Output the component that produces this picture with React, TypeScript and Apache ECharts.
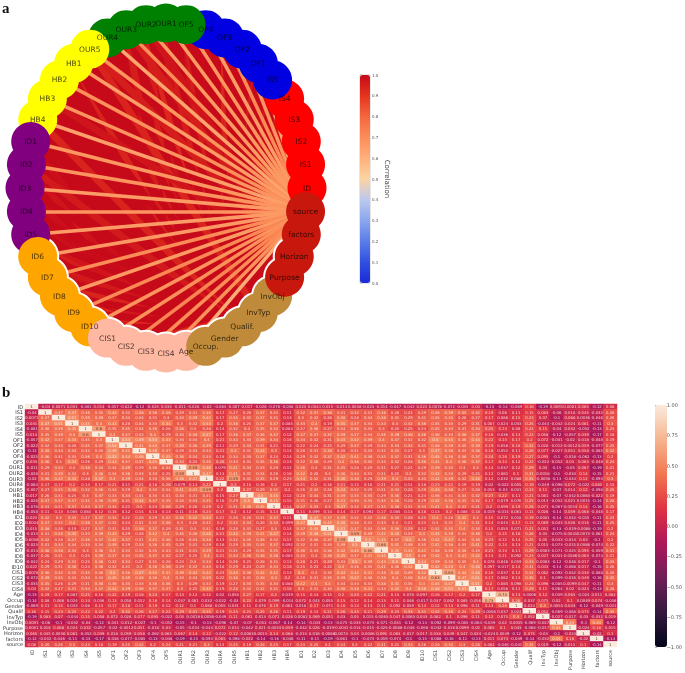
import React, { useEffect, useRef } from "react";
import * as echarts from "echarts";

const names = ["ID","IS1","IS2","IS3","IS4","IS5","OF1","OF2","OF3","OF4","OF5","OUR1","OUR2","OUR3","OUR4","OUR5","HB1","HB2","HB3","HB4","ID1","ID2","ID3","ID4","ID5","ID6","ID7","ID8","ID9","ID10","CIS1","CIS2","CIS3","CIS4","Age","Occup.","Gender","Qualif.","InvTyp","InvObj","Purpose","Horizon","factors","source"];
const heatNames = names.map((n) => n.replace(".", ""));
const groupColors = ["#ff0000","#0000e0","#008000","#ffff00","#800080","#ffa500","#ffb8a2","#bf8a3a","#c8170c"];
const groupSizes = [5,5,5,5,5,5,5,5,4];
const ringStart = "ID6";
const ringEnd = "Horizon";
const fanRow = "source";

const rows: number[][] = [
[],
[-0.04],
[0.0071,0.37],
[0.031,0.47,0.51],
[-0.081,0.36,0.39,0.45],
[0.014,0.35,0.39,0.4,0.6],
[-0.057,0.42,0.37,0.43,0.35,0.4],
[-0.022,0.32,0.34,0.28,0.35,0.37,0.54],
[-0.12,0.38,0.34,0.34,0.34,0.33,0.49,0.41],
[-0.025,0.36,0.31,0.33,0.36,0.4,0.53,0.44,0.46],
[0.033,0.36,0.3,0.44,0.26,0.29,0.43,0.37,0.37,0.45],
[-0.011,0.29,0.34,0.3,0.36,0.34,0.34,0.39,0.29,0.36,0.34],
[-0.028,0.31,0.39,0.32,0.3,0.38,0.34,0.36,0.33,0.34,0.25,0.59],
[-0.02,0.36,0.42,0.44,0.28,0.47,0.4,0.39,0.34,0.33,0.36,0.46,0.47],
[-0.064,0.17,0.17,0.2,0.14,0.17,0.21,0.11,0.21,0.18,0.26,0.079,0.13,0.22],
[-0.007,0.27,0.35,0.38,0.32,0.36,0.34,0.29,0.4,0.34,0.34,0.41,0.41,0.59,0.2],
[0.017,0.26,0.31,0.25,0.3,0.37,0.33,0.34,0.31,0.33,0.31,0.34,0.31,0.31,0.15,0.27],
[-0.026,0.37,0.37,0.37,0.35,0.36,0.39,0.31,0.44,0.37,0.35,0.33,0.34,0.35,0.16,0.29,0.5],
[-0.076,0.31,0.31,0.37,0.34,0.37,0.34,0.21,0.3,0.24,0.36,0.29,0.26,0.29,0.2,0.31,0.45,0.45],
[-0.058,0.11,0.13,0.085,0.084,0.12,0.16,0.12,0.14,0.14,0.13,0.11,0.16,0.23,0.17,0.2,0.12,0.15,0.14],
[0.023,0.32,0.3,0.33,0.27,0.37,0.34,0.22,0.28,0.29,0.32,0.36,0.42,0.44,0.21,0.26,0.28,0.31,0.37,0.11],
[0.0044,0.37,0.32,0.4,0.36,0.37,0.32,0.24,0.31,0.32,0.36,0.3,0.28,0.32,0.2,0.32,0.34,0.26,0.33,0.099,0.47],
[0.015,0.38,0.26,0.19,0.27,0.37,0.31,0.25,0.38,0.37,0.29,0.31,0.3,0.31,0.16,0.28,0.31,0.27,0.3,0.14,0.37,0.45],
[-0.013,0.31,0.38,0.45,0.34,0.39,0.43,0.29,0.28,0.42,0.4,0.35,0.36,0.46,0.21,0.44,0.39,0.41,0.47,0.14,0.39,0.48,0.51],
[0.0038,0.32,0.28,0.37,0.36,0.37,0.42,0.37,0.31,0.41,0.36,0.28,0.34,0.38,0.13,0.32,0.35,0.36,0.32,0.17,0.32,0.36,0.37,0.59],
[-0.023,0.31,0.34,0.34,0.33,0.34,0.39,0.29,0.33,0.36,0.35,0.29,0.31,0.29,0.16,0.29,0.35,0.35,0.37,0.092,0.32,0.31,0.33,0.39,0.5],
[-0.014,0.36,0.38,0.34,0.3,0.36,0.4,0.34,0.32,0.35,0.33,0.31,0.31,0.39,0.21,0.31,0.29,0.35,0.35,0.17,0.36,0.33,0.36,0.42,0.45,0.66],
[-0.047,0.26,0.31,0.3,0.25,0.39,0.37,0.34,0.35,0.37,0.32,0.27,0.25,0.4,0.21,0.34,0.36,0.38,0.38,0.085,0.33,0.3,0.38,0.45,0.37,0.41,0.45],
[-0.042,0.24,0.29,0.32,0.25,0.38,0.32,0.34,0.27,0.31,0.28,0.24,0.3,0.33,0.14,0.26,0.21,0.28,0.31,0.13,0.28,0.21,0.29,0.33,0.5,0.39,0.43,0.5],
[0.022,0.29,0.31,0.36,0.24,0.36,0.32,0.31,0.3,0.36,0.38,0.29,0.32,0.33,0.18,0.29,0.24,0.29,0.34,0.18,0.25,0.23,0.22,0.4,0.36,0.35,0.41,0.36,0.44],
[0.0078,0.36,0.35,0.35,0.35,0.36,0.5,0.38,0.47,0.45,0.41,0.39,0.42,0.42,0.23,0.43,0.36,0.42,0.41,0.13,0.4,0.3,0.32,0.44,0.42,0.41,0.38,0.42,0.39,0.42],
[-0.072,0.39,0.35,0.33,0.34,0.34,0.45,0.39,0.38,0.38,0.4,0.34,0.34,0.39,0.22,0.38,0.31,0.38,0.4,0.2,0.28,0.31,0.35,0.39,0.47,0.38,0.38,0.4,0.38,0.44,0.63],
[-0.035,0.35,0.26,0.29,0.31,0.38,0.36,0.35,0.33,0.36,0.36,0.3,0.29,0.32,0.19,0.27,0.34,0.35,0.33,0.088,0.42,0.4,0.4,0.34,0.34,0.33,0.38,0.41,0.35,0.4,0.44,0.47],
[0.04,0.32,0.27,0.31,0.34,0.37,0.44,0.39,0.36,0.37,0.37,0.3,0.25,0.43,0.19,0.28,0.32,0.32,0.31,0.18,0.3,0.31,0.33,0.38,0.38,0.41,0.33,0.42,0.4,0.46,0.48,0.51,0.51],
[-0.13,0.19,0.17,0.087,0.25,0.16,0.22,0.19,0.18,0.24,0.17,0.14,0.12,0.12,0.02,0.053,0.27,0.17,0.2,0.019,0.15,0.14,0.15,0.2,0.23,0.22,0.21,0.13,0.078,0.097,0.16,0.17,0.2,0.17],
[-0.14,0.08,0.066,0.024,0.14,0.036,0.13,0.058,0.052,0.16,0.14,0.037,0.061,0.032,-0.022,-0.03,0.22,0.079,0.099,-0.014,0.072,0.043,0.055,0.15,0.12,0.14,0.13,0.11,0.046,-0.017,0.037,0.062,0.085,0.056,0.73],
[-0.069,0.11,0.15,0.033,0.08,0.13,0.17,0.18,0.11,0.19,0.12,0.12,0.1,0.088,0.055,0.031,0.11,0.076,0.19,0.061,0.018,0.17,0.071,0.16,0.14,0.13,0.11,0.092,0.059,0.14,0.12,0.13,0.098,0.11,0.13,0.26],
[0.16,0.15,0.23,0.25,0.22,0.22,0.2,0.32,0.26,0.27,0.22,0.29,0.31,0.35,0.19,0.23,0.21,0.25,0.26,0.11,0.19,0.13,0.21,0.26,0.25,0.21,0.29,0.23,0.33,0.31,0.32,0.35,0.24,0.29,0.0006,0.037,0.024],
[-0.19,0.083,0.07,-0.044,0.15,0.058,0.072,0.028,0.077,0.095,-0.022,0.03,0.0018,-0.0056,-0.049,0.11,0.061,0.013,0.071,0.026,0.0081,0.069,0.051,0.03,0.05,0.015,0.0063,0.047,0.0063,0.043,0.062,0.1,0.096,0.11,0.12,0.075,0.3,0.052],
[0.0091,-0.06,-0.1,-0.032,-0.04,-0.12,-0.041,-0.012,-0.027,-0.1,-0.052,-0.15,-0.1,-0.13,-0.096,-0.07,-0.07,-0.052,-0.067,-0.14,-0.14,-0.043,-0.13,-0.075,-0.033,-0.073,-0.071,-0.031,-0.12,-0.14,-0.092,-0.099,-0.085,-0.064,-0.039,0.02,0.0055,-0.069,-0.027],
[0.0081,0.018,0.068,0.024,0.032,-0.057,-0.02,-0.0012,0.051,-0.018,0.03,-0.05,-0.034,-0.044,0.072,0.014,-0.042,0.021,-0.0053,0.059,-0.042,0.026,-0.019,-0.0041,-0.014,-0.015,-0.025,-0.0086,-0.046,-0.068,-0.042,-0.016,0.0099,0.02,0.065,0.1,0.043,-0.068,-0.017,0.44],
[0.065,0.045,0.0036,0.061,-0.052,0.039,0.018,0.059,0.058,-0.062,0.063,0.067,0.14,0.12,-0.022,0.12,0.0063,0.0015,0.14,0.068,-0.015,0.016,-0.0088,0.0073,0.03,0.0086,0.095,0.063,0.017,0.017,0.038,0.049,0.047,0.024,-0.024,0.0049,-0.12,0.075,-0.03,-0.1,-0.024],
[-0.12,-0.032,-0.046,-0.11,-0.13,-0.17,-0.048,-0.077,-0.085,-0.13,-0.048,-0.19,-0.15,-0.093,0.065,-0.098,-0.022,-0.14,-0.16,-0.048,-0.11,-0.11,-0.19,-0.061,-0.1,-0.074,-0.059,-0.074,-0.1,-0.15,-0.088,-0.16,-0.11,-0.13,0.011,0.074,-0.049,-0.14,-0.032,0.44,0.18,-0.02],
[0.08,0.26,0.26,0.3,0.23,0.18,0.19,0.25,0.32,0.2,0.24,0.21,0.21,0.3,0.13,0.25,0.19,0.28,0.25,0.17,0.23,0.25,0.2,0.24,0.2,0.22,0.31,0.21,0.33,0.26,0.28,0.35,0.3,0.28,0.082,-0.046,-0.041,0.35,0.019,-0.12,0.015,0.1,-0.14],
];

const rocket = ["#03051a","#35193e","#701f57","#ad1759","#e13342","#f37651","#f6b48f","#faebdd"];
const corrStops = ["#1a2ad8","#3050e0","#5a7de8","#8aa6ee","#bcc8ee","#fcd4a4","#ffb07a","#fb8d58","#f4663e","#e5341f","#c70a1a"];

function hexRgb(h: string) {
  return [1, 3, 5].map((i) => parseInt(h.slice(i, i + 2), 16));
}
function ramp(stops: string[], t: number) {
  const p = Math.max(0, Math.min(1, t)) * (stops.length - 1);
  const i = Math.min(stops.length - 2, Math.floor(p));
  const a = hexRgb(stops[i]);
  const b = hexRgb(stops[i + 1]);
  const f = p - i;
  return `rgb(${a.map((c, k) => Math.round(c + (b[k] - c) * f)).join(",")})`;
}

const nodeColor = (i: number) => {
  let n = i;
  for (let g = 0; g < groupSizes.length; g++) {
    if (n < groupSizes[g]) return groupColors[g];
    n -= groupSizes[g];
  }
  return groupColors[0];
};

export default function App() {
  const ref = useRef<HTMLDivElement>(null);
  useEffect(() => {
    const chart = echarts.init(ref.current!, null, { renderer: "svg" });
    const n = names.length;
    const pos = names.map((_, i) => {
      const a = (i / n) * 2 * Math.PI;
      return [Math.cos(a), Math.sin(a)];
    });
    const baseNodes = names.map((name, i) => ({ name, value: pos[i] }));
    const links: any[] = [];
    const fan = names.indexOf(fanRow);
    rows.forEach((r, i) =>
      r.forEach((v, j) => {
        if (i === fan) {
          if (v < 0.05) return;
          links.push({
            source: i,
            target: j,
            lineStyle: { color: ramp(corrStops, 0.58 + v * 0.4), width: 3.6, opacity: 1 },
          });
          return;
        }
        if (v < 0.1) return;
        links.push({
          source: i,
          target: j,
          lineStyle: { color: ramp(corrStops, 0.82 + v * 1.1), width: 7, opacity: 1 },
        });
      })
    );
    const rs = names.indexOf(ringStart);
    const re = names.indexOf(ringEnd);
    const ringNodes = baseNodes.slice(rs, re + 1);
    const heat: any[] = [];
    for (let y = 0; y < n; y++) {
      for (let x = 0; x < n; x++) {
        const v = x === y ? 1 : y > x ? rows[y][x] : rows[x][y];
        heat.push({
          value: [x, y, v],
          label: { color: v > 0.55 ? "#5a3a2a" : "rgba(255,255,255,0.8)" },
        });
      }
    }
    const hiddenAxis = (gridIndex: number, extra: any = {}) => ({
      type: "value", gridIndex, show: false, ...extra,
    });
    chart.setOption({
      animation: false,
      backgroundColor: "#fff",
      graphic: [
        { type: "text", left: 2, top: 0, style: { text: "a", font: "bold 15px 'Liberation Serif'", fill: "#111" } },
        { type: "text", left: 2, top: 384, style: { text: "b", font: "bold 15px 'Liberation Serif'", fill: "#111" } },
        { type: "text", x: 387, y: 179, rotation: -Math.PI / 2, style: { text: "Correlation", font: "7px 'DejaVu Sans'", fill: "#444", align: "center", verticalAlign: "middle" } },
      ],
      grid: [
        { left: 25, top: 23, width: 282, height: 330 },
        { left: 20, top: 404, width: 597, height: 243 },
        { left: 360, top: 75, width: 10, height: 208, show: true, borderColor: "#999", borderWidth: 0.5 },
        { left: 655, top: 405, width: 12, height: 242 },
      ],
      xAxis: [
        hiddenAxis(0, { min: -1, max: 1 }),
        {
          type: "category", gridIndex: 1, data: heatNames, axisLine: { show: false },
          axisTick: { length: 1.5, lineStyle: { color: "#555", width: 0.4 }, interval: 0, alignWithLabel: true },
          splitArea: { show: false },
          axisLabel: { interval: 0, rotate: 90, fontSize: 5, color: "#444", fontFamily: "DejaVu Sans", margin: 3 },
        },
        hiddenAxis(2, { min: 0, max: 1 }),
        hiddenAxis(3, { min: 0, max: 1 }),
      ],
      yAxis: [
        hiddenAxis(0, { min: -1, max: 1 }),
        {
          type: "category", gridIndex: 1, data: heatNames, inverse: true, axisLine: { show: false },
          axisTick: { length: 1.5, lineStyle: { color: "#555", width: 0.4 }, interval: 0, alignWithLabel: true },
          axisLabel: { interval: 0, fontSize: 5, color: "#333", fontFamily: "DejaVu Sans", margin: 2 },
        },
        {
          type: "value", gridIndex: 2, min: 0, max: 1, interval: 0.1, position: "right",
          axisLine: { show: false }, splitLine: { show: false },
          axisTick: { length: 1.5, lineStyle: { color: "#777", width: 0.4 } },
          axisLabel: { fontSize: 4, color: "#555", margin: 2, fontFamily: "DejaVu Sans", formatter: (v: number) => v.toFixed(1) },
        },
        {
          type: "value", gridIndex: 3, min: -1, max: 1, interval: 0.25, position: "right",
          axisLine: { show: false }, splitLine: { show: false },
          axisTick: { length: 2, lineStyle: { color: "#666", width: 0.5 } },
          axisLabel: { fontSize: 5, color: "#555", margin: 3, fontFamily: "DejaVu Sans", formatter: (v: number) => v.toFixed(2).replace("-", "\u2212") },
        },
      ],
      visualMap: [
        {
          type: "continuous", seriesIndex: 3, dimension: 2, min: -1, max: 1, calculable: false, realtime: false,
          inRange: { color: rocket }, left: 655, top: 405, itemWidth: 12, itemHeight: 242, padding: 0, text: ["", ""], showLabel: false,
        },
        {
          type: "continuous", seriesIndex: 4, dimension: 1, min: 0, max: 1, calculable: false, realtime: false,
          inRange: { color: corrStops }, left: 360, top: 75, itemWidth: 10, itemHeight: 208, padding: 0, text: ["", ""], showLabel: false,
        },
      ],
      series: [
        {
          type: "graph", coordinateSystem: "cartesian2d", xAxisIndex: 0, yAxisIndex: 0, layout: "none", silent: true, z: 1,
          symbol: "circle", symbolSize: 0, data: baseNodes, links, label: { show: false }, edgeSymbol: ["none", "none"],
        },
        {
          type: "graph", coordinateSystem: "cartesian2d", xAxisIndex: 0, yAxisIndex: 0, layout: "none", silent: true, z: 2,
          symbol: "circle", symbolSize: 43, data: ringNodes, links: [], itemStyle: { color: "#fff", opacity: 1 }, label: { show: false },
        },
        {
          type: "graph", coordinateSystem: "cartesian2d", xAxisIndex: 0, yAxisIndex: 0, layout: "none", silent: true, z: 3,
          symbol: "circle", symbolSize: 39, links: [],
          data: baseNodes.map((b, i) => ({ ...b, itemStyle: { color: nodeColor(i), opacity: 1 } })),
          label: { show: true, position: "inside", fontSize: 7.5, color: "rgba(0,0,0,0.72)", fontFamily: "DejaVu Sans", formatter: "{b}" },
        },
        {
          type: "heatmap", xAxisIndex: 1, yAxisIndex: 1, data: heat, silent: true, progressive: 0,
          label: {
            show: true, fontSize: 3.8, fontFamily: "DejaVu Sans",
            formatter: (p: any) => String(p.value[2]),
          },
        },
        { type: "scatter", xAxisIndex: 2, yAxisIndex: 2, data: [], silent: true },
      ],
    });
    return () => chart.dispose();
  }, []);
  return (
    <div
      ref={ref}
      style={{ position: "fixed", left: 0, top: 0, width: 685, height: 673, filter: "blur(0.45px)" }}
    />
  );
}
